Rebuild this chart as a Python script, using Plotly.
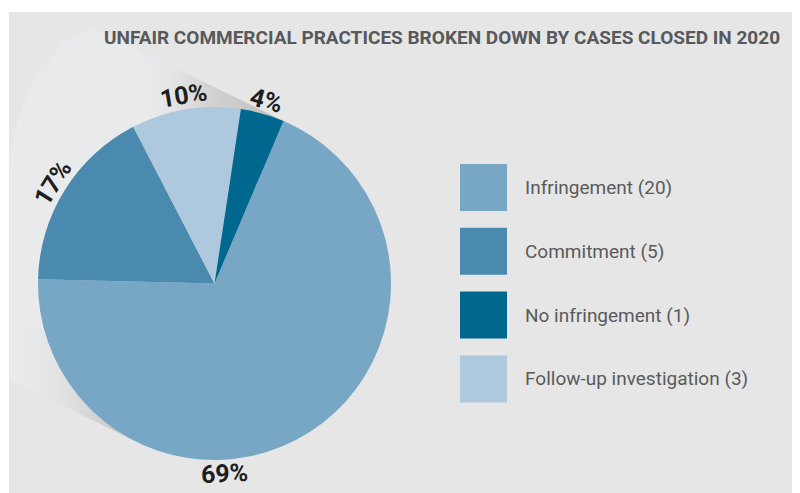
import math
import plotly.graph_objects as go

# ---- data -------------------------------------------------------------
categories = ["Infringement", "Commitment", "No infringement", "Follow-up investigation"]
case_counts = [20, 5, 1, 3]
percent_labels = [69, 17, 4, 10]          # shares printed on the chart
slice_colors = ["#78A7C6", "#4A8AAE", "#00678F", "#AEC9DD"]
pie_order = ["Infringement", "Commitment", "Follow-up investigation", "No infringement"]
title_text = "UNFAIR COMMERCIAL PRACTICES BROKEN DOWN BY CASES CLOSED IN 2020"

# ---- layout geometry (screen pixels) ---------------------------------------
OFF = 8                         # page body margin
SW, SH = 800, 493
W, H = SW - OFF, SH - OFF
CX, CY, R = 214.5, 283.5, 176.5
ROT = 23.0                     # start angle of first slice (deg, clockwise from top)
PANEL = "#E6E6E6"

idx = [categories.index(c) for c in pie_order]
pie_vals = [percent_labels[i] for i in idx]
pie_cols = [slice_colors[i] for i in idx]
pie_text = [f"{percent_labels[i]}%" for i in idx]

fig = go.Figure()

# ---- shadow cone (decoration) ---------------------------------------------
d = (-0.898, -0.439)
n = (0.439, -0.898)
T1 = (CX + R * n[0], CY + R * n[1])
T2 = (CX - R * n[0], CY - R * n[1])
slope = d[1] / d[0]


def up_y(x):
    return T1[1] + (x - T1[0]) * slope


def low_y(x):
    return T2[1] + (x - T2[0]) * slope


far_arc = [(92, up_y(92)), (62, 44), (38, 72), (20, 112), (11, 150), (9, 178)]
cone = [T1] + far_arc + [(9, low_y(9)), T2, (CX, CY), T1]
fig.add_trace(go.Scatter(
    x=[p[0] for p in cone], y=[p[1] for p in cone], fill="toself",
    mode="lines", line=dict(width=0), fillcolor="#E9EAEB",
    hoverinfo="skip", showlegend=False))

upper_strip = [T1, (135, up_y(135)), (135, 170), (T1[0], 170), T1]
fig.add_trace(go.Scatter(
    x=[p[0] for p in upper_strip], y=[p[1] for p in upper_strip], fill="toself",
    mode="lines", line=dict(width=0),
    fillgradient=dict(type="horizontal",
                      colorscale=[[0, "rgba(233,234,235,0)"], [0.45, "rgba(212,212,213,1)"],
                                  [1, "rgba(186,186,186,1)"]]),
    hoverinfo="skip", showlegend=False))

lower_strip = [(9, low_y(9)), T2, (T2[0], 330), (9, 330), (9, low_y(9))]
fig.add_trace(go.Scatter(
    x=[p[0] for p in lower_strip], y=[p[1] for p in lower_strip], fill="toself",
    mode="lines", line=dict(width=0),
    fillgradient=dict(type="horizontal",
                      colorscale=[[0, "rgba(233,234,235,0)"], [0.5, "rgba(222,222,223,1)"],
                                  [1, "rgba(190,190,190,1)"]]),
    hoverinfo="skip", showlegend=False))

# ---- pie -----------------------------------------------------------------------
fig.add_trace(go.Pie(
    labels=pie_order, values=pie_vals, sort=False, direction="clockwise",
    rotation=ROT, marker=dict(colors=pie_cols, line=dict(width=0)),
    textinfo="none", hoverinfo="label+percent", showlegend=False,
    domain=dict(x=[(CX - R - OFF) / W, (CX + R - OFF) / W],
                y=[1 - (CY + R - OFF) / H, 1 - (CY - R - OFF) / H])))

# ---- percentage labels around the pie ------------------------------------------
total = sum(pie_vals)
start = ROT
LR = R + 14
for v, t in zip(pie_vals, pie_text):
    span = v / total * 360
    end = start + span
    mid = (start + end) / 2
    if start < 180 < end:
        mid = 177
    a = math.radians(mid)
    px = CX + LR * math.sin(a)
    py = CY - LR * math.cos(a)
    rot = ((mid + 180) % 360) - 180
    if rot > 90:
        rot -= 180
    elif rot < -90:
        rot += 180
    fig.add_annotation(x=px, y=py, xref="x", yref="y", text=t, showarrow=False,
                       textangle=rot, xanchor="center", yanchor="middle",
                       font=dict(family="Roboto", size=25, color="#1E1E1E", weight="bold"))
    start = end

# ---- custom legend ------------------------------------------------------------------
for i, (cat, cnt, col) in enumerate(zip(categories, case_counts, slice_colors)):
    y0 = 164 + i * 63.8
    fig.add_shape(type="rect", xref="x", yref="y", x0=460, x1=507, y0=y0, y1=y0 + 47,
                  fillcolor=col, line=dict(width=0), layer="above")
    fig.add_annotation(x=523, y=y0 + 23.5, xref="x", yref="y", text=f"{cat} ({cnt})",
                       showarrow=False, xanchor="left", yanchor="middle",
                       font=dict(family="Roboto", size=19, color="#5A5A5C"))

# ---- title --------------------------------------------------------------------------
fig.add_annotation(x=442, y=37, xref="x", yref="y", text=title_text, showarrow=False,
                   xanchor="center", yanchor="middle",
                   font=dict(family="Roboto", size=19, color="#58595B", weight="bold"))

# ---- background panel -------------------------------------------------------------------
fig.add_shape(type="rect", xref="x", yref="y", x0=9, x1=798, y0=12, y1=SH,
              fillcolor=PANEL, line=dict(width=0), layer="below")

fig.update_layout(
    width=W, height=H, margin=dict(l=0, r=0, t=0, b=0),
    paper_bgcolor="white", plot_bgcolor="rgba(0,0,0,0)",
    xaxis=dict(range=[OFF, SW], visible=False, fixedrange=True, domain=[0, 1]),
    yaxis=dict(range=[SH, OFF], visible=False, fixedrange=True, domain=[0, 1]),
    showlegend=False,
)

fig.write_html("out.html")
